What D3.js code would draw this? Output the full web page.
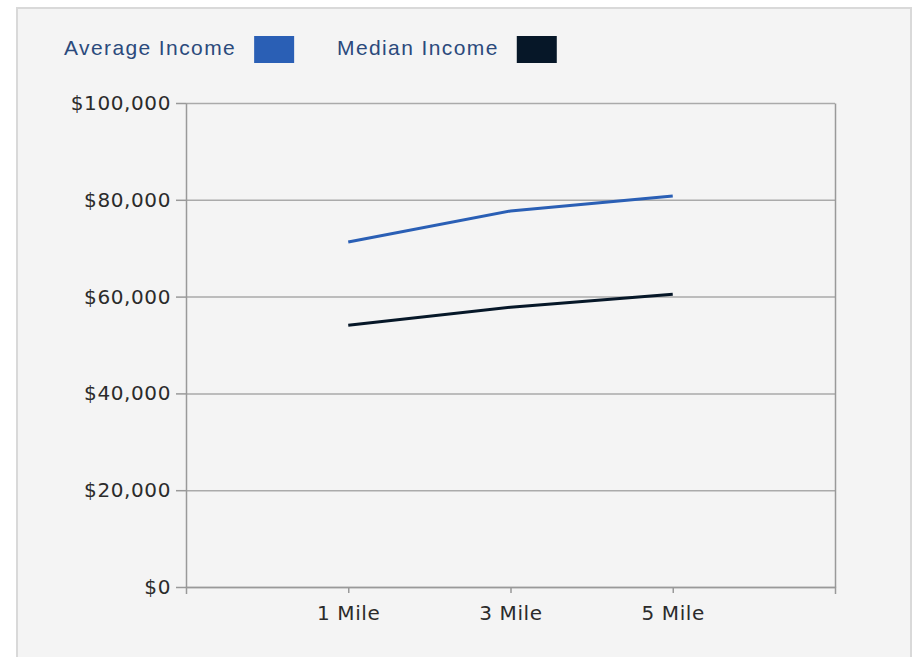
<html>
<head>
<meta charset="utf-8">
<script src="https://d3js.org/d3.v7.min.js"></script>
<style>
body { margin: 0; background: #fff; }
.panel { fill: #f4f4f4; stroke: #d9d9d9; stroke-width: 2px; }
.axis path, .axis line { fill: none; stroke: #999; stroke-width: 1.5px; }
.axis text { font-family: "DejaVu Sans", sans-serif; font-size: 20px; letter-spacing: 0.6px; fill: #2b2b2b; }
.grid line { stroke: #aaa; stroke-width: 1.5px; }
.grid path { display: none; }
.legend text { font-family: "Liberation Sans", Arial, sans-serif; font-size: 21px; letter-spacing: 1.4px; fill: #2b4a7c; }
.line { fill: none; stroke-width: 3px; }
</style>
</head>
<body>
<svg id="chart" width="913" height="657"></svg>
<script>

// data
var categories = ["1 Mile", "3 Mile", "5 Mile"];
var averageIncome = [71300, 77700, 80800];
var medianIncome = [54100, 57800, 60500];
var yTicks = [0, 20000, 40000, 60000, 80000, 100000];

var series = [
    {name: "Average Income", values: averageIncome, color: "#2a5fb5"},
    {name: "Median Income", values: medianIncome, color: "#061728"}
];

var margin = {top: 103, right: 78, bottom: 70, left: 186};
var width = 913 - margin.left - margin.right;
var height = 587 - margin.top;

var svg = d3.select("#chart");

// background panel
svg.append("rect")
    .attr("class", "panel")
    .attr("x", 17)
    .attr("y", 8)
    .attr("width", 894)
    .attr("height", 670);

var g = svg.append("g")
    .attr("transform", "translate(" + margin.left + "," + margin.top + ")");

var x = d3.scalePoint()
    .domain(categories)
    .range([0, width])
    .padding(1);

var y = d3.scaleLinear()
    .domain([0, 100000])
    .range([height, 0]);

// gridlines
g.append("g")
    .attr("class", "grid")
    .call(d3.axisLeft(y).tickValues(yTicks).tickSize(-width).tickFormat(""));

// right border
g.append("g")
    .attr("class", "axis")
    .attr("transform", "translate(" + width + ",0)")
    .call(d3.axisRight(y).tickValues([]).tickSizeOuter(0));

g.append("g")
    .attr("class", "axis")
    .call(d3.axisLeft(y)
        .tickValues(yTicks)
        .tickSize(10)
        .tickSizeOuter(0)
        .tickPadding(5)
        .tickFormat(function(d){ return "$" + d3.format(",")(d) }));

g.append("g")
    .attr("class", "axis")
    .attr("transform", "translate(0," + height + ")")
    .call(d3.axisBottom(x).tickSize(6).tickSizeOuter(7).tickPadding(13));

var line = d3.line()
    .x(function(d, i){ return x(categories[i]) })
    .y(function(d){ return y(d) });

g.selectAll(".line")
    .data(series)
    .enter().append("path")
    .attr("class", "line")
    .attr("stroke", function(d){ return d.color })
    .attr("d", function(d){ return line(d.values) });

// legend
var legend = svg.append("g").attr("class", "legend");
var legendX = [64, 337];
series.forEach(function(s, i){
    var t = legend.append("text")
        .attr("x", legendX[i])
        .attr("y", 55)
        .text(s.name);
    var w = t.node().getComputedTextLength();
    legend.append("rect")
        .attr("x", legendX[i] + w + 18)
        .attr("y", 36)
        .attr("width", 40)
        .attr("height", 27)
        .attr("fill", s.color);
});

</script>
</body>
</html>
